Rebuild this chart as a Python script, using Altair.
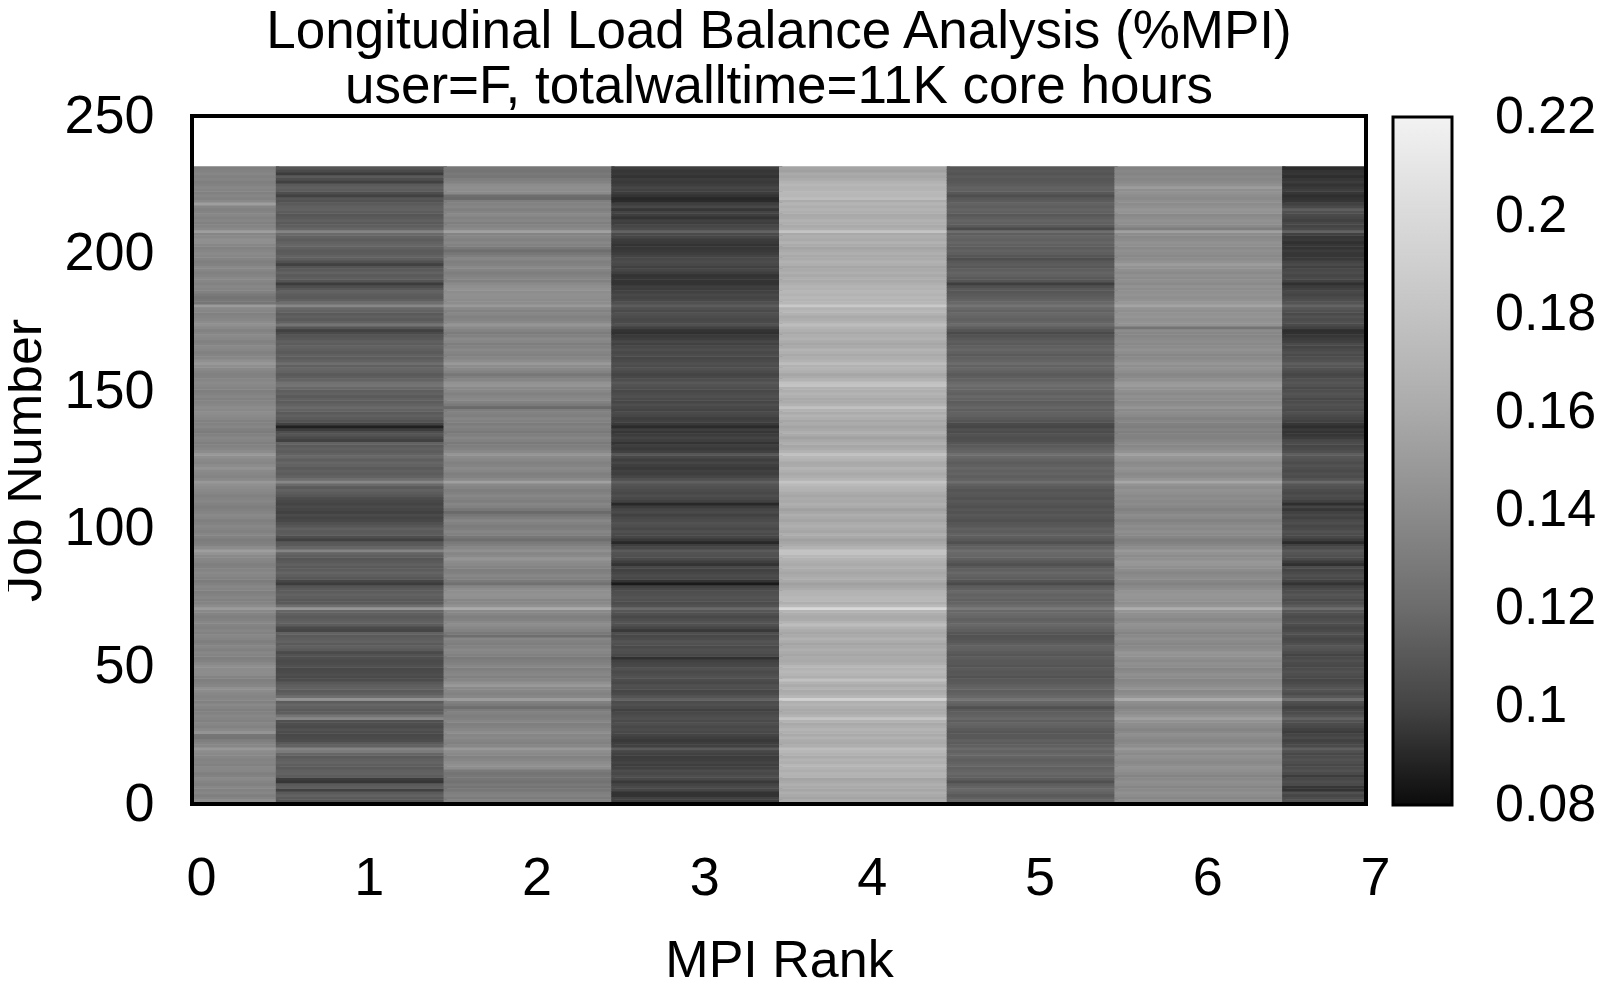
import altair as alt
import pandas as pd

# MPI time fraction per job (rows: job 0..231), one list per MPI rank, in units of 0.001
RANK0 = [
142,141,135,132,136,134,137,133,135,138,134,132,136,137,133,135,
134,136,138,140,148,137,135,132,125,126,145,138,134,136,133,135,
137,134,132,135,138,133,136,135,137,140,143,136,134,132,135,140,
141,140,142,138,134,132,135,137,133,136,134,131,135,137,134,136,
133,135,137,134,132,135,138,150,140,135,133,136,134,132,135,137,
133,130,134,136,138,135,133,132,135,137,139,145,152,140,134,132,
130,134,136,133,135,137,134,132,136,138,135,133,131,134,136,135,
133,136,138,140,143,148,138,135,137,139,145,140,136,138,142,148,
140,136,134,132,135,137,133,130,132,136,134,133,137,139,141,138,
140,137,135,133,136,134,132,135,137,139,136,134,133,135,138,142,
148,143,137,135,133,136,138,135,133,137,139,136,134,138,143,140,
137,135,133,136,138,150,126,127,125,128,133,135,137,134,136,138,
135,133,136,138,134,132,135,137,139,136,134,137,142,143,138,136,
152,138,135,133,136,134,137,135,133,136,152,138,134,136,133,135,
137,134,132,135,133,136,134,132]
RANK1 = [
110,108,111,115,111,99,113,111,95,97,112,115,114,111,113,116,
114,111,117,129,135,115,111,105,103,102,104,107,103,105,106,137,
125,113,111,114,117,112,145,121,114,111,115,113,110,104,103,105,
103,102,106,104,103,105,107,103,111,114,111,115,113,111,115,101,
103,112,115,113,111,114,117,147,121,111,110,113,115,112,111,108,
97,101,110,113,116,112,111,114,111,109,113,116,135,117,111,110,
99,105,112,111,114,109,106,102,100,103,99,101,103,100,102,104,
109,112,115,111,119,137,121,115,112,114,111,115,117,113,118,115,
112,114,111,115,99,103,108,105,97,87,99,107,111,114,111,115,
119,115,112,114,111,115,113,118,125,123,116,113,111,115,117,114,
121,115,112,114,111,113,115,112,114,110,108,103,99,109,125,115,
111,114,111,115,118,137,121,114,111,112,115,110,105,97,108,113,
111,115,111,108,99,106,113,115,112,111,114,117,115,112,115,119,
135,117,113,111,114,111,109,112,115,114,111,107,109,99,105,112,
114,111,99,105,111,97,103,108]
RANK2 = [
131,133,130,134,132,127,125,128,124,126,127,125,129,141,143,140,
136,134,138,141,149,137,133,135,138,136,141,137,134,132,136,133,
131,134,130,121,129,133,151,137,134,136,139,149,143,136,133,137,
135,132,137,134,131,129,133,136,138,134,131,133,136,121,128,134,
137,141,138,134,132,136,139,161,144,138,136,143,144,142,141,136,
123,129,134,137,133,131,135,138,140,146,139,136,143,137,132,129,
121,127,133,136,132,130,134,137,131,126,119,127,133,136,131,134,
137,133,131,135,138,153,139,134,132,136,139,135,133,137,140,146,
138,134,131,129,133,136,132,128,131,134,130,133,136,132,134,131,
119,129,134,138,136,133,137,139,146,144,136,132,127,134,138,141,
149,141,136,133,135,138,134,131,136,139,133,130,134,139,146,138,
135,133,137,134,138,149,141,140,142,143,141,144,142,139,133,136,
134,131,135,138,134,132,136,131,127,121,128,134,137,133,136,135,
153,139,135,132,136,134,138,135,132,136,134,131,119,121,139,141,
142,140,134,131,126,128,125,127]
RANK3 = [
101,98,99,94,94,101,103,100,96,102,105,102,104,99,98,100,
98,97,99,101,111,99,98,96,98,100,102,104,102,105,103,106,
104,102,99,103,106,104,114,108,103,101,105,106,102,104,107,105,
103,106,102,101,99,93,102,105,106,103,106,108,104,102,105,96,
101,106,108,105,102,106,109,119,107,104,106,108,106,105,102,99,
85,94,102,104,101,99,102,94,98,103,106,107,111,102,98,90,
96,101,103,106,102,105,107,104,102,99,103,101,97,90,99,102,
105,102,104,106,108,114,106,101,98,99,96,98,101,98,102,109,
99,96,98,94,98,100,97,95,98,91,96,99,98,101,103,100,
102,105,101,103,106,104,102,105,107,110,105,102,100,103,106,104,
106,103,101,104,102,105,102,99,102,98,96,93,94,99,106,103,
102,104,106,103,106,112,106,102,100,102,99,97,98,94,94,95,
94,98,101,99,102,104,102,100,98,96,95,94,96,97,101,103,
115,104,101,98,99,94,98,100,95,102,98,91,90,94,97,99,
101,98,96,97,94,96,95,98]
RANK4 = [
157,161,156,159,163,157,160,164,159,156,166,168,163,167,170,164,
167,161,166,170,175,163,159,161,166,160,164,168,163,159,166,181,
167,161,159,163,168,164,192,170,163,160,166,161,167,178,164,168,
171,167,170,163,159,161,157,160,164,159,156,161,166,160,157,161,
166,175,167,161,159,163,168,199,173,164,170,171,168,167,161,157,
153,159,163,160,157,161,164,160,163,167,171,180,181,167,161,157,
153,159,163,157,160,164,161,156,159,163,157,153,160,164,159,161,
157,161,166,168,173,181,168,163,159,164,168,161,159,166,170,178,
167,161,157,163,159,154,160,164,159,156,161,157,163,167,161,166,
178,166,161,159,164,168,163,166,181,178,167,161,157,164,168,166,
175,167,163,159,164,168,160,157,161,166,163,159,164,168,175,167,
163,160,166,170,167,185,170,168,171,167,170,166,168,164,160,163,
159,164,160,157,163,166,161,159,164,160,156,161,166,160,163,159,
181,164,160,163,166,161,159,164,167,163,168,161,175,170,171,168,
167,170,166,161,157,160,153,156]
RANK5 = [
114,117,114,111,115,118,116,113,106,112,115,118,116,114,117,115,
113,116,118,115,119,114,112,114,110,110,109,111,114,116,113,118,
115,113,111,106,114,117,125,118,115,113,116,114,111,110,107,110,
109,111,108,110,110,112,109,111,114,115,113,110,108,107,109,113,
115,118,116,114,117,119,118,129,120,116,114,117,115,118,114,112,
103,108,113,115,118,114,111,106,110,114,117,118,121,115,112,106,
110,113,115,112,114,110,109,106,108,110,107,109,106,108,110,107,
109,110,108,111,114,121,115,113,116,114,117,114,112,115,118,122,
116,114,111,109,106,105,107,104,106,101,103,108,111,114,115,113,
117,114,112,115,118,114,116,118,122,119,115,113,111,114,117,115,
120,116,114,111,114,117,114,111,113,110,107,103,108,113,119,116,
114,116,118,115,118,125,118,115,113,111,109,110,106,98,108,111,
114,116,113,110,112,110,105,109,113,115,112,114,117,114,116,113,
121,103,111,114,116,113,110,114,116,113,115,112,110,105,110,114,
115,112,110,109,111,108,110,109]
RANK6 = [
138,141,137,140,143,139,136,140,142,138,135,139,142,144,141,138,
140,143,139,142,149,141,138,136,139,142,138,135,139,141,144,153,
146,141,138,135,139,142,161,147,141,138,145,141,138,136,140,143,
139,136,141,143,139,142,145,147,141,138,136,139,142,138,135,139,
142,144,140,137,141,143,146,163,147,142,144,146,147,145,141,138,
134,137,141,139,136,140,143,147,148,143,140,144,149,141,137,134,
131,136,139,142,138,141,137,134,138,141,136,133,137,140,138,141,
139,142,144,141,145,157,146,141,138,142,145,141,139,144,147,153,
144,140,137,139,136,133,134,132,135,131,133,136,134,138,141,139,
146,141,138,140,143,139,142,145,151,149,142,139,137,141,144,142,
147,142,139,137,141,144,140,138,141,139,136,137,140,125,144,145,
143,146,144,142,145,156,148,144,142,145,143,141,144,139,142,140,
143,139,142,145,151,144,140,138,141,143,139,142,144,140,138,141,
153,131,139,142,144,141,138,145,147,143,140,142,139,141,144,142,
151,143,139,136,138,135,137,134]
RANK7 = [
103,107,104,101,106,94,95,103,105,102,97,103,107,104,102,105,
107,104,102,106,113,103,101,99,103,100,97,99,102,104,107,115,
108,104,102,99,103,106,121,110,104,107,109,106,103,101,103,105,
107,104,102,103,106,103,100,104,107,109,106,103,101,104,107,103,
101,104,107,105,103,106,109,121,111,106,103,107,109,105,103,100,
94,99,103,106,103,100,104,93,97,103,106,108,111,104,99,91,
97,102,104,107,103,101,105,103,99,102,99,95,100,92,99,103,
105,102,104,107,109,119,108,104,106,103,105,107,104,107,109,113,
106,103,101,104,102,97,95,94,96,92,95,99,101,103,106,103,
105,107,104,102,106,108,105,103,107,109,106,103,101,104,107,109,
113,107,105,103,106,103,100,103,99,97,95,93,92,99,103,106,
104,107,103,106,109,116,108,105,103,100,102,99,97,93,99,103,
101,104,102,99,103,100,96,95,95,97,94,95,93,96,95,99,
115,103,100,102,99,101,103,106,113,103,99,95,94,92,95,98,
96,94,97,95,92,95,94,91]

RANKS = [RANK0, RANK1, RANK2, RANK3, RANK4, RANK5, RANK6, RANK7]
X_TICKS = [0, 1, 2, 3, 4, 5, 6, 7]
Y_TICKS = [0, 50, 100, 150, 200, 250]
CBAR_TICKS = [0.08, 0.10, 0.12, 0.14, 0.16, 0.18, 0.20, 0.22]
# colour bar stops (its ends pushed out a hair so the end labels stay centred)
CBAR_STOPS = [0.0799, 0.10, 0.12, 0.14, 0.16, 0.18, 0.20, 0.2201]
# grey level of the colour bar at each stop
CBAR_GREYS = ["#0c0c0c", "#444444", "#6c6c6c", "#8c8c8c",
              "#aaaaaa", "#c3c3c3", "#dadada", "#f2f2f2"]
TITLE = ["Longitudinal Load Balance Analysis (%MPI)",
         "user=F, totalwalltime=11K core hours"]

# each cell spans rank +/- 0.5 and job +/- 0.5; the upper edge is stretched a
# little so that the next cell (drawn later) overlaps it and no seams show
rows = []
for r, col in enumerate(RANKS):
    for j, v in enumerate(col):
        rows.append({"rank": r, "job": j,
                     "x0": r - 0.5, "x1": r + 0.52,
                     "y0": j - 0.5, "y1": j + 0.7,
                     "value": v / 1000.0})
df = pd.DataFrame(rows)

FONT = "Liberation Sans"
cscale = alt.Scale(domain=CBAR_STOPS, range=CBAR_GREYS, interpolate="rgb")

heat = alt.Chart(df).mark_rect(clip=True, strokeWidth=0).encode(
    x=alt.X("x0:Q", scale=alt.Scale(domain=[0, 7], nice=False, zero=False),
            axis=alt.Axis(values=X_TICKS, format="d", title="MPI Rank",
                          labelPadding=47, labelFlush=False, labelOffset=9,
                          titlePadding=30)),
    x2="x1:Q",
    y=alt.Y("y0:Q", scale=alt.Scale(domain=[0, 250], nice=False, zero=False),
            axis=alt.Axis(values=Y_TICKS, format="d", title="Job Number",
                          labelPadding=38, labelFlush=False, titlePadding=12)),
    y2="y1:Q",
    color=alt.Color("value:Q", scale=cscale,
                    legend=alt.Legend(type="gradient", title=None, orient="none",
                                      legendX=1201, legendY=1,
                                      direction="vertical", gradientLength=688,
                                      gradientThickness=59, gradientStrokeColor="black",
                                      gradientStrokeWidth=3, values=CBAR_TICKS,
                                      format=".2~f", labelOffset=43, labelFontSize=52,
                                      labelFont=FONT, labelColor="black",
                                      labelOverlap=False, labelBaseline="middle",
                                      padding=0)),
)

frame = alt.Chart(df).mark_rect(filled=False, stroke="black", strokeWidth=3).encode(
    x=alt.value(0), x2=alt.value(1174), y=alt.value(0), y2=alt.value(688),
)

chart = alt.layer(heat, frame).properties(
    width=1174, height=688,
    title=alt.TitleParams(TITLE, fontSize=53, font=FONT, fontWeight="normal",
                          color="black", anchor="middle", lineHeight=55, offset=-25),
    autosize=alt.AutoSizeParams(type="none"),
    padding={"left": 184, "top": 108, "right": 232, "bottom": 177},
).configure_view(
    stroke=None,
).configure_axis(
    domain=False, ticks=False, grid=False,
    labelFont=FONT, labelFontSize=54, labelColor="black",
    titleFont=FONT, titleFontSize=52, titleFontWeight="normal", titleColor="black",
)

chart.save("out.html", embed_options={"renderer": "svg", "actions": False})
